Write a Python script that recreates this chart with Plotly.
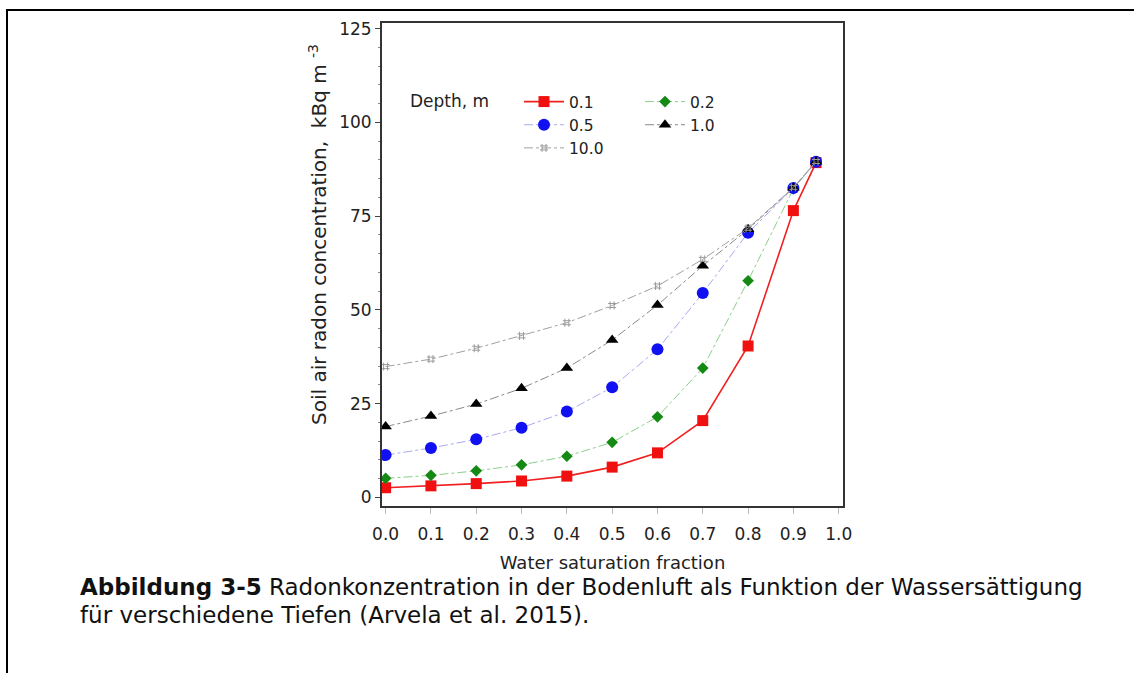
import plotly.graph_objects as go

# Water saturation fraction (x) and radon concentration (kBq m^-3) per depth
saturation = [0.0, 0.1, 0.2, 0.3, 0.4, 0.5, 0.6, 0.7, 0.8, 0.9, 0.95]
depth_0_1 = [2.6, 3.1, 3.7, 4.4, 5.7, 8.1, 11.9, 20.5, 40.4, 76.5, 89.3]
depth_0_2 = [5.1, 5.9, 7.1, 8.7, 11.0, 14.7, 21.5, 34.5, 57.8, 82.3, 89.5]
depth_0_5 = [11.3, 13.2, 15.5, 18.6, 22.9, 29.4, 39.5, 54.5, 70.6, 82.5, 89.5]
depth_1_0 = [18.9, 21.7, 24.9, 29.1, 34.5, 42.0, 51.3, 61.8, 71.5, 82.6, 89.5]
depth_10_0 = [34.9, 36.9, 39.8, 43.1, 46.6, 51.2, 56.4, 63.5, 71.8, 82.7, 89.6]

x_ticks = [0.0, 0.1, 0.2, 0.3, 0.4, 0.5, 0.6, 0.7, 0.8, 0.9, 1.0]
y_ticks = [0, 25, 50, 75, 100, 125]

W, H = 1134, 673
L, R, T, B = 382, 843, 23, 506
PW, PH = R - L, B - T


def px_x(p):
    return (p - L) / PW


def px_y(p):
    return (B - p) / PH


FONT = "DejaVu Sans"
INK = "#222222"

fig = go.Figure()

series = [
    ("0.1", depth_0_1, dict(symbol="square", size=11, color="#f01010"),
     dict(color="#f02020", width=1.6), "legend"),
    ("0.2", depth_0_2, dict(symbol="diamond", size=9, color="#148a14"),
     dict(color="#8ccf8c", width=1, dash="dashdot"), "legend2"),
    ("0.5", depth_0_5, dict(symbol="circle", size=12, color="#1010f0"),
     dict(color="#a8aaf4", width=1, dash="dashdot"), "legend"),
    ("1.0", depth_1_0, dict(symbol="triangle-up", size=11, color="#000000"),
     dict(color="#8a8a8a", width=1, dash="dashdot"), "legend2"),
    ("10.0", depth_10_0, dict(symbol="hash-open", size=8, color="#9a9a9a",
                              line=dict(width=1, color="#9a9a9a")),
     dict(color="#a0a0a0", width=1, dash="dashdot"), "legend"),
]

for name, ys, marker, line, leg in series:
    fig.add_trace(go.Scatter(
        x=saturation, y=ys, name=name, mode="lines+markers",
        marker=marker, line=line, legend=leg,
    ))

axis_line = dict(showline=True, linecolor="#333333", linewidth=2, mirror=True,
                 showgrid=False, zeroline=False)

legend_common = dict(xanchor="left", yanchor="top", bgcolor="rgba(0,0,0,0)",
                     font=dict(family=FONT, size=15.5, color=INK),
                     orientation="v", tracegroupgap=0, itemwidth=40)

fig.update_layout(
    width=W, height=H,
    margin=dict(l=L, r=W - R, t=T, b=H - B),
    paper_bgcolor="white", plot_bgcolor="white",
    font=dict(family=FONT, size=17, color=INK),
    xaxis=dict(
        range=[-0.008, 1.0095], tickvals=x_ticks,
        ticktext=[f"{v:.1f}" for v in x_ticks],
        ticks="outside", ticklen=6, tickcolor="#bbbbbb", tickwidth=1,
        ticklabelstandoff=6,
        tickfont=dict(family=FONT, size=17, color=INK),
        title=dict(text="Water saturation fraction",
                   font=dict(family=FONT, size=18, color=INK),
                   standoff=13),
        **axis_line,
    ),
    yaxis=dict(
        range=[-2.27, 126.53], tickvals=y_ticks,
        ticks="outside", ticklen=5, tickcolor="#444444", tickwidth=1,
        minor=dict(dtick=5, ticks="outside", ticklen=2, tickcolor="#888888"),
        tickfont=dict(family=FONT, size=17, color=INK),
        **axis_line,
    ),
    legend=dict(x=px_x(519), y=px_y(85), **legend_common),
    legend2=dict(x=px_x(640), y=px_y(85), **legend_common),
    showlegend=True,
)

# Y axis title, placed beside the tick labels
fig.add_annotation(
    x=px_x(318), y=px_y(235), xref="paper", yref="paper",
    xanchor="center", yanchor="middle", showarrow=False, textangle=-90,
    text="Soil air radon concentration,\u00a0 kBq m <sup>-3</sup>",
    font=dict(family=FONT, size=20, color=INK),
)

# Legend heading
fig.add_annotation(
    x=px_x(408), y=px_y(101), xref="paper", yref="paper",
    xanchor="left", yanchor="middle", showarrow=False,
    text="Depth, m", font=dict(family=FONT, size=17, color=INK),
)

# Figure caption below the chart, one annotation per line
caption_lines = [
    "<b>Abbildung 3-5</b> Radonkonzentration in der Bodenluft als Funktion der Wassersättigung",
    "für verschiedene Tiefen (Arvela et al. 2015).",
]
for i, line_text in enumerate(caption_lines):
    fig.add_annotation(
        x=px_x(78), y=px_y(587 + 28 * i), xref="paper", yref="paper",
        xanchor="left", yanchor="middle", align="left", showarrow=False,
        text=line_text,
        font=dict(family=FONT, size=23, color="#111111"),
    )

# Page frame lines (top and left)
fig.add_shape(type="line", xref="paper", yref="paper",
              x0=px_x(6), x1=px_x(W), y0=px_y(10), y1=px_y(10),
              line=dict(color="black", width=2))
fig.add_shape(type="line", xref="paper", yref="paper",
              x0=px_x(7), x1=px_x(7), y0=px_y(10), y1=px_y(H + 2),
              line=dict(color="black", width=2))

fig.write_html("out.html")
